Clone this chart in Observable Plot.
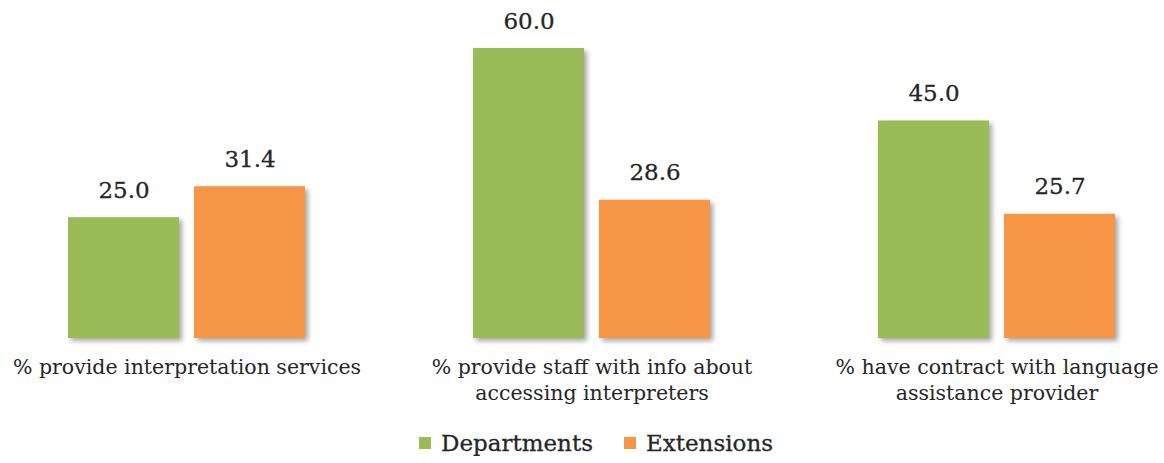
<!DOCTYPE html>
<html>
<head>
<meta charset="utf-8">
<script src="https://cdn.jsdelivr.net/npm/d3@7"></script>
<script src="https://cdn.jsdelivr.net/npm/@observablehq/plot@0.6"></script>
<style>
  html, body { margin: 0; padding: 0; background: #fff; }
  #chart { width: 1164px; }
  #chart svg g[aria-label="bar"] rect { filter: drop-shadow(3px 3px 2.5px rgba(0,0,0,0.35)); }
  #legend { display: flex; justify-content: center; gap: 31px; font-family: "DejaVu Serif", serif; font-size: 23px; color: #262626; margin-left: 28px; margin-top: 15px; -webkit-text-stroke: 0.3px #262626; }
  #legend .item { display: flex; align-items: center; gap: 10px; }
  #legend .sw { width: 12px; height: 12px; display: inline-block; }
</style>
</head>
<body>
<div id="chart"></div>
<script>
const categories = [
  "% provide interpretation services",
  "% provide staff with info about\naccessing interpreters",
  "% have contract with language\nassistance provider"
];
const seriesNames = ["Departments", "Extensions"];
const departments = [25.0, 60.0, 45.0];
const extensions = [31.4, 28.6, 25.7];
const colors = ["#9BBB59", "#F79646"];

const data = [];
categories.forEach((c, i) => {
  data.push({category: c, series: seriesNames[0], value: departments[i]});
  data.push({category: c, series: seriesNames[1], value: extensions[i]});
});

const plot = Plot.plot({
  width: 1164,
  height: 415,
  marginTop: 48,
  marginBottom: 77,
  marginLeft: 66,
  marginRight: 47,
  style: { fontFamily: "DejaVu Serif, serif", color: "#262626", background: "#fff" },
  fx: { domain: categories, paddingInner: 0.411, paddingOuter: 0, label: null },
  x: { domain: seriesNames, paddingInner: 0.118, paddingOuter: 0, axis: null },
  y: { domain: [0, 60], axis: null },
  color: { domain: seriesNames, range: colors },
  marks: [
    Plot.barY(data, { fx: "category", x: "series", y: "value", fill: "series" }),
    Plot.text(data, { fx: "category", x: "series", y: "value", text: d => d.value.toFixed(1), lineAnchor: "bottom", dy: -20, fontSize: 23, fill: "#262626", stroke: "#262626", strokeWidth: 0.3 }),
    Plot.axisFx({ tickSize: 0, tickPadding: 17, fontSize: 20.5, lineHeight: 1.28, label: null, anchor: "bottom", fill: "#262626", stroke: "#262626", strokeWidth: 0.3 })
  ]
});
document.getElementById("chart").appendChild(plot);

const legend = document.createElement("div");
legend.id = "legend";
seriesNames.forEach((s, i) => {
  const item = document.createElement("div");
  item.className = "item";
  const sw = document.createElement("span");
  sw.className = "sw";
  sw.style.background = plot.scale("color").apply(s);
  const t = document.createElement("span");
  t.textContent = s;
  item.appendChild(sw); item.appendChild(t);
  legend.appendChild(item);
});
document.body.appendChild(legend);
</script>
</body>
</html>
